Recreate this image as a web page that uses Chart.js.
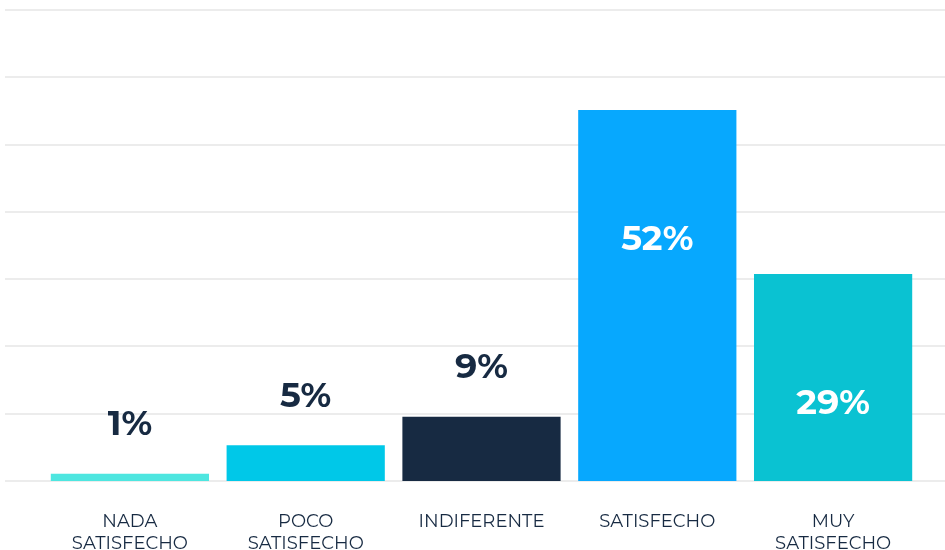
<!DOCTYPE html>
<html>
<head>
<meta charset="utf-8">
<script src="https://cdn.jsdelivr.net/npm/chart.js@4.4.1/dist/chart.umd.min.js"></script>
<style>
  html, body { margin: 0; padding: 0; background: #ffffff; overflow: hidden; }
  #wrap { width: 945px; height: 550px; overflow: hidden; }
</style>
</head>
<body>
<div id="wrap"><canvas id="myChart" width="945" height="576"></canvas></div>
<script>
const categories = [
    ["NADA", "SATISFECHO"],
    ["POCO", "SATISFECHO"],
    "INDIFERENTE",
    "SATISFECHO",
    ["MUY", "SATISFECHO"],
];
const values = [1, 5, 9, 52, 29];
const colors = ['#4ee6e0', '#00c8e8', '#172a42', '#07a8fe', '#0ac2d2'];
const yMax = 66;
const gridSteps = 7;

const navy = '#172a42';
const font = "Montserrat, Inter, 'Open Sans', sans-serif";

// horizontal guide lines across the full width
const gridLines = {
    id: 'gridLines',
    beforeDatasetsDraw(chart) {
        const { ctx, scales: { y } } = chart;
        ctx.save();
        ctx.strokeStyle = '#ececec';
        ctx.lineWidth = 2;
        for (let i = 0; i <= gridSteps; i++) {
            const py = Math.round(y.getPixelForValue(yMax * i / gridSteps));
            ctx.beginPath();
            ctx.moveTo(5, py);
            ctx.lineTo(chart.width, py);
            ctx.stroke();
        }
        ctx.restore();
    }
};

// percentage labels: above short bars, inside tall ones
const valueLabels = {
    id: 'valueLabels',
    afterDatasetsDraw(chart) {
        const { ctx } = chart;
        const meta = chart.getDatasetMeta(0);
        ctx.save();
        ctx.font = "bold 35px " + font;
        ctx.textAlign = 'center';
        ctx.textBaseline = 'middle';
        meta.data.forEach((bar, i) => {
            const v = values[i];
            if (v >= 20) {
                ctx.fillStyle = '#ffffff';
                ctx.fillText(v + '%', bar.x, bar.y + 130);
            } else {
                ctx.fillStyle = navy;
                ctx.fillText(v + '%', bar.x, bar.y - 49);
            }
        });
        ctx.restore();
    }
};

const data = {
    labels: categories,
    datasets: [
        {
            data: values,
            backgroundColor: colors,
            borderWidth: 0,
            barPercentage: 0.9,
            categoryPercentage: 1,
        },
    ],
};

const options = {
    responsive: false,
    animation: false,
    layout: {
        padding: { left: 42, right: 24, top: 10, bottom: 0 }
    },
    plugins: {
        legend: { display: false },
        tooltip: { enabled: false }
    },
    scales: {
        x: {
            grid: { display: false },
            border: { display: false },
            ticks: {
                color: navy,
                font: { family: font, size: 18, lineHeight: 1.25 },
                padding: 21,
                maxRotation: 0,
                autoSkip: false
            }
        },
        y: {
            display: false,
            min: 0,
            max: yMax
        }
    }
};

new Chart("myChart", { type: "bar", data, options, plugins: [gridLines, valueLabels] });
</script>
</body>
</html>
